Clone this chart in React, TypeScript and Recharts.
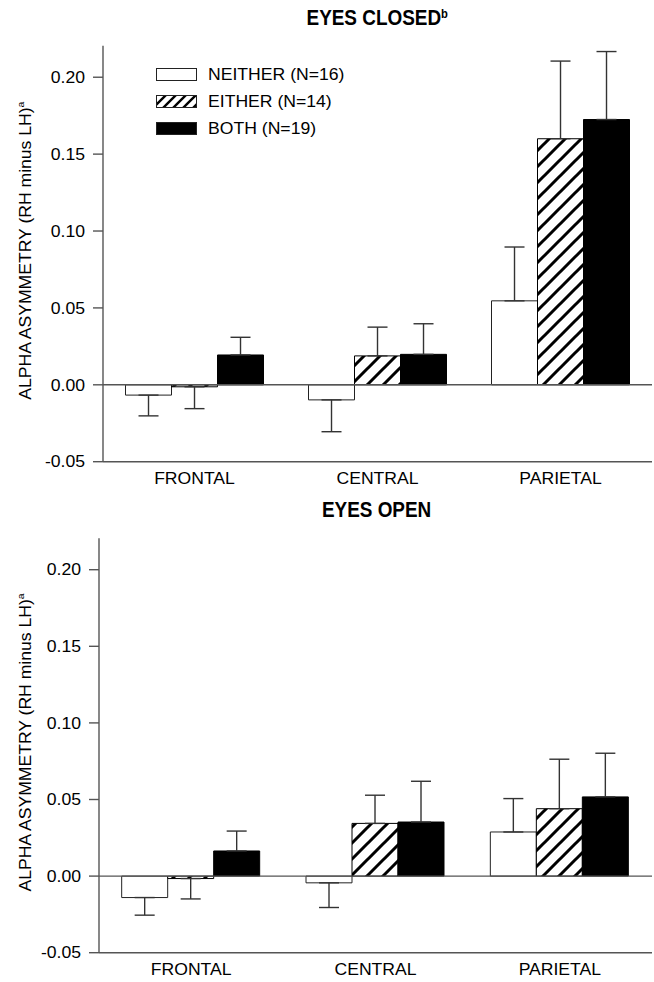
import React from 'react';
import { BarChart, Bar, XAxis, YAxis, ErrorBar, ReferenceLine } from 'recharts';

const categories = ['FRONTAL', 'CENTRAL', 'PARIETAL'];
const seriesNames = ['NEITHER (N=16)', 'EITHER (N=14)', 'BOTH (N=19)'];
const yTicks = [-0.05, 0, 0.05, 0.1, 0.15, 0.2];
const yDomain = [-0.05, 0.2205];

// EYES CLOSED
const closedNeither = [-0.0067, -0.0098, 0.0546];
const closedNeitherErr = [0.0135, 0.0207, 0.035];
const closedEither = [-0.0013, 0.0188, 0.16];
const closedEitherErr = [0.0142, 0.0187, 0.0505];
const closedBoth = [0.0194, 0.0198, 0.1725];
const closedBothErr = [0.0115, 0.0199, 0.0442];

// EYES OPEN
const openNeither = [-0.014, -0.0044, 0.0288];
const openNeitherErr = [0.0115, 0.0161, 0.0218];
const openEither = [-0.0016, 0.0344, 0.044];
const openEitherErr = [0.0133, 0.0184, 0.0323];
const openBoth = [0.0164, 0.0353, 0.0517];
const openBothErr = [0.013, 0.0266, 0.0285];

const FONT = '"Liberation Sans", Arial, Helvetica, sans-serif';
const FS = 16;
const SX = 1.1;
const AXIS = '#555';

const dir = (v: number, e: number) => (v < 0 ? [e, 0] : [0, e]);

function build(
  n: number[], ne: number[], ei: number[], eie: number[], b: number[], be: number[]
) {
  return categories.map((name, i) => ({
    name,
    neither: n[i],
    neitherErr: dir(n[i], ne[i]),
    either: ei[i],
    eitherErr: dir(ei[i], eie[i]),
    both: b[i],
    bothErr: dir(b[i], be[i]),
  }));
}

const closedData = build(closedNeither, closedNeitherErr, closedEither, closedEitherErr, closedBoth, closedBothErr);
const openData = build(openNeither, openNeitherErr, openEither, openEitherErr, openBoth, openBothErr);

const YTick = (props: any) => {
  const { x, y, payload } = props;
  return (
    <text
      transform={`translate(${x},${y}) scale(${SX},1)`}
      textAnchor="end"
      dy="0.36em"
      fontSize={FS}
      fontFamily={FONT}
      fill="#000"
    >
      {Number(payload.value).toFixed(2)}
    </text>
  );
};

const XTick = (props: any) => {
  const { x, y, payload } = props;
  return (
    <text
      transform={`translate(${x},${y}) scale(${SX},1)`}
      textAnchor="middle"
      dy={14}
      fontSize={FS}
      fontFamily={FONT}
      fill="#000"
    >
      {payload.value}
    </text>
  );
};

const YLabel = (props: any) => {
  const vb = props.viewBox || { x: 0, y: 0, width: 100, height: 400 };
  const cx = vb.x + 25;
  const cy = vb.y + vb.height / 2 - 3;
  return (
    <text
      transform={`translate(${cx},${cy}) rotate(-90) scale(${SX},1)`}
      textAnchor="middle"
      dy="0.36em"
      fontSize={FS}
      fontFamily={FONT}
      fill="#000"
    >
      ALPHA ASYMMETRY (RH minus LH)
      <tspan dy={-7} fontSize={9.5}>a</tspan>
    </text>
  );
};

function Panel(props: { data: any[]; pid: string; marginTop: number; yAxisWidth: number }) {
  const { data, pid, marginTop, yAxisWidth } = props;
  return (
    <BarChart
      width={654}
      height={491}
      data={data}
      margin={{ top: marginTop, right: 2, left: 0, bottom: 0 }}
      barCategoryGap="12.3%"
      barGap={0}
    >
      <defs>
        <pattern id={pid} patternUnits="userSpaceOnUse" width={16} height={16}>
          <rect width={16} height={16} fill="#fff" />
          <path d="M0,16 L16,0 M-4,4 L4,-4 M12,20 L20,12" stroke="#000" strokeWidth={3} />
        </pattern>
      </defs>
      <XAxis
        dataKey="name"
        height={29.3}
        tickLine={false}
        axisLine={{ stroke: AXIS, strokeWidth: 1.4 }}
        tick={<XTick />}
        interval={0}
      />
      <XAxis
        xAxisId="top"
        dataKey="name"
        orientation="top"
        height={0}
        tick={false}
        tickLine={false}
        axisLine={{ stroke: AXIS, strokeWidth: 1.4 }}
      />
      <YAxis
        domain={yDomain}
        ticks={yTicks}
        allowDataOverflow
        width={yAxisWidth}
        tickSize={10}
        tickMargin={8}
        tickLine={{ stroke: AXIS, strokeWidth: 1.4 }}
        axisLine={{ stroke: AXIS, strokeWidth: 1.4 }}
        tick={<YTick />}
        label={YLabel}
        interval={0}
      />
      <YAxis
        yAxisId="right"
        orientation="right"
        width={0}
        domain={[0, 1]}
        tick={false}
        tickLine={false}
        axisLine={{ stroke: AXIS, strokeWidth: 1.4 }}
      />
      <ReferenceLine y={0} stroke={AXIS} strokeWidth={1.4} />
      <Bar dataKey="neither" fill="#fff" stroke="#222" strokeWidth={1} isAnimationActive={false}>
        <ErrorBar dataKey="neitherErr" width={10} stroke="#333" strokeWidth={1.4} direction="y" />
      </Bar>
      <Bar dataKey="either" fill={`url(#${pid})`} stroke="#000" strokeWidth={1} isAnimationActive={false}>
        <ErrorBar dataKey="eitherErr" width={10} stroke="#333" strokeWidth={1.4} direction="y" />
      </Bar>
      <Bar dataKey="both" fill="#000" stroke="#000" strokeWidth={1} isAnimationActive={false}>
        <ErrorBar dataKey="bothErr" width={10} stroke="#333" strokeWidth={1.4} direction="y" />
      </Bar>
    </BarChart>
  );
}

const titleStyle = (top: number): React.CSSProperties => ({
  position: 'absolute',
  top,
  left: 100,
  width: 554,
  textAlign: 'center',
  fontFamily: FONT,
  fontWeight: 'bold',
  fontSize: 22,
  lineHeight: '22px',
  color: '#000',
});

const innerTitle: React.CSSProperties = {
  display: 'inline-block',
  transform: 'scaleX(0.86)',
  transformOrigin: 'center center',
  whiteSpace: 'nowrap',
};

const swatches = [
  { fill: '#fff' },
  { fill: 'url(#legendHatch)' },
  { fill: '#000' },
];

function LegendBox() {
  return (
    <div style={{ position: 'absolute', left: 156, top: 62, fontFamily: FONT }}>
      {seriesNames.map((name, i) => (
        <div key={name} style={{ display: 'flex', alignItems: 'center', height: 26.7 }}>
          <svg width={42} height={14} style={{ display: 'block' }}>
            {i === 1 && (
              <defs>
                <pattern id="legendHatch" patternUnits="userSpaceOnUse" width={10} height={10}>
                  <rect width={10} height={10} fill="#fff" />
                  <path d="M0,10 L10,0 M-3,3 L3,-3 M7,13 L13,7" stroke="#000" strokeWidth={2.4} />
                </pattern>
              </defs>
            )}
            <rect x={0.5} y={0.5} width={40} height={12} fill={swatches[i].fill} stroke="#222" strokeWidth={1} />
          </svg>
          <span
            style={{
              marginLeft: 10,
              fontSize: FS,
              display: 'inline-block',
              transform: `scaleX(${SX})`,
              transformOrigin: 'left center',
              whiteSpace: 'nowrap',
              color: '#000',
            }}
          >
            {name}
          </span>
        </div>
      ))}
    </div>
  );
}

export default function App() {
  return (
    <div style={{ position: 'absolute', left: 0, top: 0, width: 654, height: 982, background: '#fff' }}>
      <div style={{ position: 'absolute', left: 0, top: 0 }}>
        <Panel data={closedData} pid="hatchClosed" marginTop={45.7} yAxisWidth={103} />
      </div>
      <div style={{ position: 'absolute', left: 0, top: 491 }}>
        <Panel data={openData} pid="hatchOpen" marginTop={47.3} yAxisWidth={99} />
      </div>
      <div style={titleStyle(7)}>
        <span style={innerTitle}>
          EYES CLOSED<sup style={{ fontSize: 13, verticalAlign: 'top', position: 'relative', top: -4 }}>b</sup>
        </span>
      </div>
      <div style={titleStyle(499)}>
        <span style={innerTitle}>EYES OPEN</span>
      </div>
      <LegendBox />
    </div>
  );
}
